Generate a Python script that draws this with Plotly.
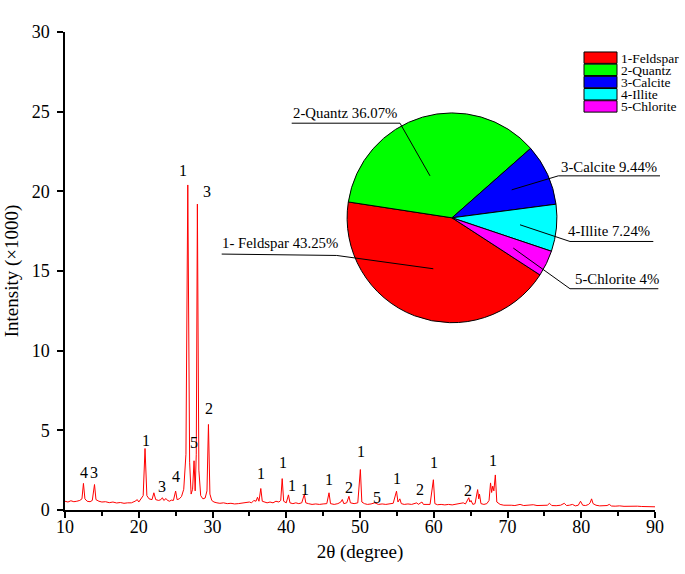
import plotly.graph_objects as go

# ---------------- XRD pattern ----------------
two_theta = [
    10.0, 10.4, 10.8, 11.2, 11.6, 12.0, 12.3, 12.5, 12.7, 13.0, 13.4, 13.7, 14.0, 14.2, 14.6,
    15.0, 15.5, 16.0, 16.5, 17.0, 17.5, 18.0, 18.5, 19.0, 19.5, 19.8, 20.0, 20.3, 20.6, 20.85,
    21.1, 21.4, 21.8, 22.05, 22.3, 22.7, 23.0, 23.2, 23.4, 23.7, 23.9, 24.2, 24.4, 24.7, 25.0,
    25.2, 25.5, 25.8, 26.1, 26.4, 26.65, 26.9, 27.1, 27.3, 27.5, 27.65, 27.8, 27.95, 28.15, 28.4,
    28.7, 29.0, 29.25, 29.45, 29.65, 29.9, 30.2, 30.6, 31.0, 31.5, 32.0, 32.5, 33.0, 33.5, 34.0,
    34.5, 35.0, 35.3, 35.6, 35.9, 36.1, 36.3, 36.55, 36.75, 37.0, 37.4, 37.8, 38.2, 38.6, 39.0,
    39.25, 39.45, 39.65, 40.0, 40.3, 40.5, 40.9, 41.3, 41.7, 42.1, 42.45, 42.65, 43.0, 43.5, 44.0,
    44.5, 45.0, 45.5, 45.8, 46.0, 46.5, 47.0, 47.4, 47.6, 47.8, 48.2, 48.5, 48.7, 49.2, 49.7,
    50.05, 50.25, 50.6, 51.0, 51.5, 52.0, 52.5, 53.0, 53.5, 54.0, 54.5, 54.95, 55.15, 55.4, 55.6,
    56.0, 56.5, 57.0, 57.4, 57.7, 57.9, 58.2, 58.4, 58.6, 59.0, 59.5, 59.95, 60.15, 60.5, 61.0,
    61.5, 62.0, 62.5, 63.0, 63.5, 64.0, 64.3, 64.75, 64.9, 65.05, 65.3, 65.6, 65.95, 66.1, 66.2,
    66.4, 66.8, 67.2, 67.5, 67.7, 67.85, 68.0, 68.15, 68.35, 68.55, 69.0, 69.5, 70.0, 70.5, 71.0,
    71.7, 72.2, 72.8, 73.5, 74.0, 74.8, 75.4, 75.7, 76.0, 76.6, 77.2, 77.7, 78.0, 78.4, 78.8,
    79.2, 79.6, 79.9, 80.2, 80.6, 81.0, 81.2, 81.4, 81.6, 82.0, 82.5, 83.0, 83.5, 83.8, 84.1,
    84.6, 85.2, 85.8, 86.4, 87.0, 87.6, 88.2, 88.8, 89.4, 90.0,
]
intensity = [
    0.55, 0.50, 0.58, 0.52, 0.55, 0.60, 0.70, 1.67, 0.70, 0.55, 0.52, 0.60, 1.60, 0.65, 0.55,
    0.50, 0.52, 0.46, 0.50, 0.44, 0.47, 0.42, 0.45, 0.45, 0.55, 0.65, 0.50, 0.70, 0.90, 3.86,
    0.90, 0.70, 0.65, 1.08, 0.65, 0.60, 0.65, 0.77, 0.60, 0.72, 0.60, 0.55, 0.62, 0.60, 1.19,
    0.65, 0.70, 0.85, 1.30, 3.50, 20.40, 3.00, 1.00, 1.30, 3.09, 1.20, 3.50, 19.20, 2.50, 0.90,
    0.70, 0.75, 1.20, 5.37, 1.00, 0.60, 0.50, 0.45, 0.42, 0.45, 0.40, 0.42, 0.38, 0.40, 0.42,
    0.45, 0.50, 0.45, 0.60, 0.55, 0.80, 0.55, 1.35, 0.55, 0.50, 0.45, 0.50, 0.45, 0.55, 0.50,
    0.60, 1.97, 0.55, 0.45, 0.95, 0.45, 0.40, 0.45, 0.40, 0.45, 0.98, 0.45, 0.40, 0.35, 0.38,
    0.35, 0.38, 0.40, 1.08, 0.40, 0.35, 0.40, 0.50, 0.66, 0.40, 0.45, 0.86, 0.45, 0.40, 0.45,
    2.54, 0.50, 0.40, 0.35, 0.38, 0.45, 0.35, 0.38, 0.35, 0.40, 0.42, 1.18, 0.50, 0.70, 0.40,
    0.35, 0.38, 0.35, 0.40, 0.45, 0.35, 0.42, 0.50, 0.35, 0.33, 0.35, 1.90, 0.40, 0.33, 0.35,
    0.32, 0.35, 0.32, 0.35, 0.38, 0.45, 0.38, 0.77, 0.50, 0.60, 0.35, 0.40, 1.28, 0.70, 1.00,
    0.40, 0.35, 0.40, 0.60, 1.70, 1.10, 1.50, 1.20, 2.20, 0.50, 0.35, 0.30, 0.32, 0.30, 0.28,
    0.35, 0.28, 0.30, 0.33, 0.28, 0.27, 0.30, 0.42, 0.28, 0.27, 0.30, 0.42, 0.28, 0.30, 0.35,
    0.26, 0.30, 0.55, 0.30, 0.28, 0.35, 0.45, 0.70, 0.40, 0.30, 0.26, 0.25, 0.28, 0.35, 0.25,
    0.24, 0.26, 0.23, 0.24, 0.22, 0.24, 0.22, 0.21, 0.22, 0.20,
]

# Peak labels (mineral index) and their positions
peak_labels = ["4", "3", "1", "3", "4", "5", "1", "3", "2", "1", "1", "1", "1", "1",
               "2", "1", "5", "1", "2", "1", "2", "1"]
peak_label_x = [12.54, 13.93, 20.98, 23.2, 25.0, 27.5, 26.04, 29.29, 29.53, 36.58, 39.5, 40.74,
                42.5, 45.84, 48.55, 50.14, 52.26, 55.06, 58.14, 60.03, 64.6, 67.99]
peak_label_y = [2.35, 2.35, 4.37, 1.49, 2.12, 4.25, 21.32, 20.02, 6.36, 2.27, 2.99, 1.53,
                1.28, 1.91, 1.39, 3.68, 0.80, 2.0, 1.28, 2.99, 1.24, 3.12]

# ---------------- Mineral composition pie ----------------
minerals = ["1-Feldspar", "2-Quantz", "3-Calcite", "4-Illite", "5-Chlorite"]
pie_labels = ["1- Feldspar 43.25%", "2-Quantz 36.07%", "3-Calcite 9.44%",
              "4-Illite 7.24%", "5-Chlorite 4%"]
percent = [43.25, 36.07, 9.44, 7.24, 4.0]
colors = ["#FF0000", "#00FF00", "#0000FF", "#00FFFF", "#FF00FF"]

FONT = "Liberation Serif"

# plot-area pixel geometry helpers (figure 685x574)
L, R, T, B = 65, 655, 32, 510.5
def fx(p):
    return (p - L) / (R - L)
def fy(p):
    return (B - p) / (B - T)

fig = go.Figure()
fig.add_trace(go.Scatter(x=two_theta, y=intensity, mode="lines",
                         line=dict(color="#FF0000", width=1), showlegend=False,
                         hoverinfo="skip"))

pie_cx, pie_cy, pie_r = 452, 218, 105
fig.add_trace(go.Pie(
    labels=minerals, values=percent, sort=False, direction="clockwise", rotation=123,
    marker=dict(colors=colors, line=dict(color="black", width=1)),
    textinfo="none", showlegend=False, hoverinfo="label+percent",
    domain=dict(x=[fx(pie_cx - pie_r), fx(pie_cx + pie_r)],
                y=[fy(pie_cy + pie_r), fy(pie_cy - pie_r)]),
))

annotations = []
for t, x, y in zip(peak_labels, peak_label_x, peak_label_y):
    annotations.append(dict(x=x, y=y, xref="x", yref="y", text=t, showarrow=False,
                            font=dict(family=FONT, size=16, color="black"),
                            xanchor="center", yanchor="middle"))

shapes = []
callouts = [
    (279.7, 243.5, [(221.7, 254.3), (336.7, 255.7), (433.3, 269)]),
    (344.7, 113.0, [(291.7, 123.3), (400, 123.3), (430, 176)]),
    (609.0, 167.5, [(660, 176), (558.3, 176), (511.7, 190)]),
    (609.0, 231.5, [(653.3, 241.7), (570, 241.7), (520, 225)]),
    (616.7, 279.5, [(658.3, 289), (570, 289), (513.3, 248.3)]),
]
for lab, (tx, ty, pts) in zip(pie_labels, callouts):
    annotations.append(dict(x=fx(tx), y=fy(ty), xref="paper", yref="paper", text=lab,
                            showarrow=False, font=dict(family=FONT, size=14.8, color="black"),
                            xanchor="center", yanchor="middle"))
    path = "M " + " L ".join(f"{fx(a):.5f},{fy(b):.5f}" for a, b in pts)
    shapes.append(dict(type="path", xref="paper", yref="paper", path=path,
                       line=dict(color="black", width=1)))

# legend for pie
leg_x0, leg_x1, leg_top, leg_h = 584, 617, 52, 12.2
for i, (name, c) in enumerate(zip(minerals, colors)):
    y0 = leg_top + i * leg_h
    shapes.append(dict(type="rect", xref="paper", yref="paper",
                       x0=fx(leg_x0), x1=fx(leg_x1), y0=fy(y0), y1=fy(y0 + leg_h - 0.8),
                       fillcolor=c, line=dict(color="black", width=1)))
    annotations.append(dict(x=fx(619.5), y=fy(y0 + leg_h / 2), xref="paper", yref="paper",
                            text=name, showarrow=False, xanchor="left", yanchor="middle",
                            borderpad=0, font=dict(family=FONT, size=13.5, color="black")))

fig.update_layout(
    width=685, height=574,
    margin=dict(l=L, r=685 - R, t=T, b=574 - B, autoexpand=False),
    paper_bgcolor="white", plot_bgcolor="white",
    font=dict(family=FONT, size=18, color="black"),
    annotations=annotations, shapes=shapes, showlegend=False,
    xaxis=dict(range=[10, 90], tickvals=[10, 20, 30, 40, 50, 60, 70, 80, 90],
               showline=True, linecolor="black", linewidth=1.5, mirror=False,
               ticks="outside", ticklen=6, tickwidth=1.5, tickcolor="black",
               minor=dict(ticks="outside", ticklen=4, tickwidth=1.5, tickcolor="black",
                          dtick=5, showgrid=False),
               showgrid=False, zeroline=False, automargin=False, ticklabelstandoff=-6,
               title=dict(text="2θ (degree)", font=dict(family=FONT, size=19), standoff=8),
               tickfont=dict(family=FONT, size=18)),
    yaxis=dict(range=[0, 30], tickvals=[0, 5, 10, 15, 20, 25, 30],
               showline=True, linecolor="black", linewidth=1.5,
               ticks="outside", ticklen=6, tickwidth=1.5, tickcolor="black",
               showgrid=False, zeroline=False, automargin=False, ticklabelstandoff=4,
               title=dict(text="Intensity (×1000)", font=dict(family=FONT, size=19), standoff=8),
               tickfont=dict(family=FONT, size=18)),
)

fig.write_html("out.html", config={"displayModeBar": False},
               post_script="document.body.style.margin='0';document.body.style.padding='0';")
